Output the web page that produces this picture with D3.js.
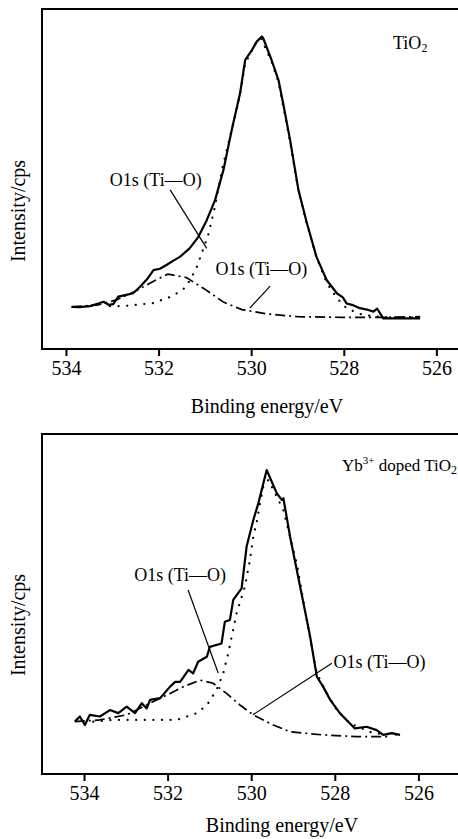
<!DOCTYPE html>
<html><head><meta charset="utf-8">
<script src="https://cdn.jsdelivr.net/npm/d3@7"></script>
<style>
body{margin:0;background:#fff;}
svg{display:block;font-family:"Liberation Serif","Times New Roman","DejaVu Serif",serif;}
svg text{font-family:"Liberation Serif","Times New Roman","DejaVu Serif",serif !important;fill:#000;}
</style></head>
<body>
<svg id="c" width="458" height="839"></svg>
<script>
// ---------- DATA (binding energy eV, intensity arbitrary units) ----------
const tickValues = [534, 532, 530, 528, 526];
const xLabel = "Binding energy/eV";
const yLabel = "Intensity/cps";

// Panel A: TiO2
const aMeasE = [533.88,533.72,533.48,533.30,533.19,533.08,532.98,532.87,532.70,532.55,532.40,532.25,532.11,531.97,531.83,531.68,531.54,531.33,531.14,530.96,530.78,530.60,530.42,530.24,530.13,529.98,529.88,529.77,529.74,529.56,529.41,529.31,529.16,528.98,528.80,528.59,528.37,528.15,528.02,527.94,527.80,527.65,527.50,527.36,527.28,527.15,526.80,526.35];
const aMeasI = [12.4,12.3,12.6,13.4,13.9,13.0,13.2,15.4,15.9,16.4,18.3,20.5,23.2,23.6,24.7,26.0,27.1,29.6,33.0,37.9,43.8,52.6,64.4,75.2,85.0,88.0,90.4,91.9,91.4,85.0,79.1,72.3,61.5,46.8,37.2,27.1,20.3,16.4,15.2,13.4,12.9,12.0,11.6,11.0,11.9,9.0,9.0,9.0];
const aFit1E = [533.88,533.30,532.90,532.50,532.10,531.80,531.40,531.00,530.60,530.20,529.70,529.00,528.00,527.20,526.35];
const aFit1I = [12.4,13.0,14.5,17.0,20.0,22.0,21.0,17.6,13.8,11.6,10.4,9.5,9.3,9.3,9.5];
const aFit2E = [533.05,532.77,532.12,531.69,531.41,531.19,531.11,530.93,530.78,530.61,530.41,530.24,530.13,529.90,529.79,529.56,529.41,529.31,529.16,528.98,528.80,528.59,528.37,528.15,527.94,527.65,527.36,527.00,526.35];
const aFit2I = [12.6,12.6,13.5,15.6,18.2,23.5,26.5,33.5,42.0,54.0,65.0,75.0,84.0,90.0,91.5,84.5,78.5,71.5,61.0,46.5,37.0,27.0,19.5,15.0,12.0,10.3,9.6,9.3,9.2];

// Panel B: Yb3+ doped TiO2
const bMeasE = [534.22,534.10,533.98,533.86,533.62,533.38,533.18,532.98,532.78,532.62,532.50,532.42,532.18,531.94,531.82,531.70,531.50,531.39,531.27,531.06,530.99,530.71,530.63,530.51,530.43,530.23,530.11,529.95,529.83,529.63,529.39,529.27,529.23,529.07,528.91,528.75,528.59,528.43,528.28,528.11,527.88,527.72,527.52,527.24,527.00,526.84,526.64,526.44];
const bMeasI = [15.4,16.9,14.4,17.4,16.9,18.8,17.9,19.8,17.9,20.8,19.3,21.8,22.3,25.7,27.1,27.1,30.6,29.6,33.0,34.5,37.4,38.4,44.8,45.3,51.2,54.6,66.9,74.7,79.6,89.4,82.6,80.6,81.1,69.8,60.0,50.2,40.4,28.6,25.7,21.8,17.9,15.9,13.4,13.9,12.9,11.5,12.0,11.5];
const bFit1E = [534.22,533.62,532.98,532.42,531.94,531.62,531.22,530.91,530.59,530.27,529.95,529.47,529.07,528.28,527.48,526.68];
const bFit1I = [15.4,15.9,17.4,20.8,23.7,25.7,27.6,26.7,23.7,20.3,17.4,14.4,12.4,11.5,11.0,11.0];
const bFit2E = [533.78,533.30,532.82,532.26,531.78,531.30,531.06,530.83,530.67,530.55,530.35,530.15,530.03,529.95,529.87,529.79,529.71,529.59,529.23,528.91,528.67,528.43,528.19,527.95,527.64,527.08,526.44];
const bFit2I = [15.4,15.9,15.9,15.9,15.9,17.9,20.3,24.7,29.6,35.5,47.3,55.2,63.0,69.9,74.0,79.6,84.5,86.5,77.6,61.9,45.1,29.6,23.7,18.8,14.9,12.0,11.5];

// Annotations
const aNotes = [
  {text:"O1s (Ti—O)", tE:532.06, tI:49.7, e1:531.75, i1:46.8, e2:530.96, i2:29.6},
  {text:"O1s (Ti—O)", tE:529.78, tI:23.5, e1:529.59, i1:18.5, e2:530.03, i2:12.0}
];
const bNotes = [
  {text:"O1s (Ti—O)", tE:531.70, tI:58.5, e1:531.51, i1:54.1, e2:530.79, i2:29.7},
  {text:"O1s (Ti—O)", tE:526.93, tI:32.9, e1:528.07, i1:32.6, e2:529.96, i2:17.4}
];

// ---------- DRAW ----------
const svg = d3.select("#c");
const FONT = '"Liberation Serif","Times New Roman",serif';

function panel(cfg){
  const g = svg.append("g");
  const x = d3.scaleLinear().domain(cfg.xDomain).range([42, 458]);
  const y = d3.scaleLinear().domain([0, 100]).range([cfg.bottom, cfg.top]);

  g.append("line").attr("x1",42).attr("x2",458).attr("y1",cfg.top).attr("y2",cfg.top)
    .attr("stroke","#000").attr("stroke-width",2);
  g.append("line").attr("x1",42).attr("x2",42).attr("y1",cfg.top-1).attr("y2",cfg.bottom)
    .attr("stroke","#000").attr("stroke-width",2);

  const ax = g.append("g").attr("transform",`translate(0,${cfg.bottom})`)
    .call(d3.axisBottom(x).tickValues(tickValues).tickSizeOuter(0).tickSizeInner(7).tickPadding(5).tickFormat(d3.format("d")));
  ax.attr("font-family",FONT).attr("font-size",20);
  ax.select(".domain").attr("stroke-width",2).attr("d",`M41,0H458`);
  ax.selectAll(".tick line").attr("stroke-width",2);

  g.append("text").attr("x",cfg.xLabelX).attr("y",cfg.xLabelY).attr("text-anchor","middle")
    .attr("font-size",20).text(xLabel);
  g.append("text").attr("transform",`translate(18,${cfg.yLabelY}) rotate(-90)`)
    .attr("text-anchor","middle").attr("dominant-baseline","central").attr("font-size",20).text(yLabel);

  const line = d3.line().x(d=>x(d[0])).y(d=>y(d[1]));
  const zip = (E,I)=>E.map((e,i)=>[e,I[i]]);

  g.append("path").attr("d",line(zip(cfg.fit2E,cfg.fit2I))).attr("fill","none")
    .attr("stroke","#000").attr("stroke-width",2.2).attr("stroke-linecap","round")
    .attr("stroke-dasharray","0.1,8.5");
  g.append("path").attr("d",line(zip(cfg.fit1E,cfg.fit1I))).attr("fill","none")
    .attr("stroke","#000").attr("stroke-width",1.7).attr("stroke-dasharray","10,4,2,4");
  g.append("path").attr("d",line(zip(cfg.measE,cfg.measI))).attr("fill","none")
    .attr("stroke","#000").attr("stroke-width",2.2).attr("stroke-linejoin","round");

  cfg.notes.forEach(n=>{
    g.append("line").attr("x1",x(n.e1)).attr("y1",y(n.i1)).attr("x2",x(n.e2)).attr("y2",y(n.i2))
      .attr("stroke","#000").attr("stroke-width",1.2);
    g.append("text").attr("x",x(n.tE)).attr("y",y(n.tI)).attr("text-anchor","middle")
      .attr("dominant-baseline","central").attr("font-size",18).text(n.text);
  });
  return g;
}

const gA = panel({xDomain:[534.518,525.533], top:9, bottom:349, xLabelX:267, xLabelY:413, yLabelY:211,
  measE:aMeasE, measI:aMeasI, fit1E:aFit1E, fit1I:aFit1I, fit2E:aFit2E, fit2I:aFit2I, notes:aNotes});
const tA = gA.append("text").attr("x",393).attr("y",49).attr("font-size",18);
tA.append("tspan").text("TiO");
tA.append("tspan").attr("font-size",12).attr("dy",3).text("2");

const gB = panel({xDomain:[535.005,525.053], top:434, bottom:774, xLabelX:282, xLabelY:832, yLabelY:625,
  measE:bMeasE, measI:bMeasI, fit1E:bFit1E, fit1I:bFit1I, fit2E:bFit2E, fit2I:bFit2I, notes:bNotes});
const tB = gB.append("text").attr("x",457).attr("y",471).attr("text-anchor","end").attr("font-size",17);
tB.append("tspan").text("Yb");
tB.append("tspan").attr("font-size",11).attr("dy",-7).text("3+");
tB.append("tspan").attr("dy",7).text(" doped TiO");
tB.append("tspan").attr("font-size",12).attr("dy",3).text("2");
</script>
</body></html>
